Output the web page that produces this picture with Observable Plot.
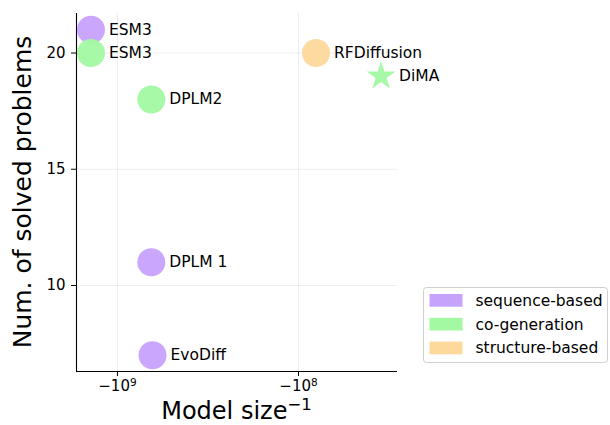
<!DOCTYPE html>
<html>
<head>
<meta charset="utf-8">
<script src="https://cdn.jsdelivr.net/npm/d3@7"></script>
<script src="https://cdn.jsdelivr.net/npm/@observablehq/plot@0.6"></script>
<style>
  html, body { margin: 0; padding: 0; background: #fff; }
  #chart { width: 610px; height: 425px; }
  svg { font-family: "DejaVu Sans", sans-serif; }
</style>
</head>
<body>
<div id="chart"></div>
<script>
// ---- data ----
const names = ["ESM3", "ESM3", "DPLM2", "DPLM 1", "EvoDiff", "RFDiffusion", "DiMA"];
const modelSizes = [1.4e9, 1.4e9, 6.5e8, 6.5e8, 6.4e8, 8.0e7, 3.5e7];
const solved = [21, 20, 18, 11, 7, 20, 19];
const groups = ["sequence-based", "co-generation", "co-generation", "sequence-based", "sequence-based", "structure-based", "co-generation"];
const shapes = ["circle", "circle", "circle", "circle", "circle", "circle", "star"];
const categories = ["sequence-based", "co-generation", "structure-based"];
const palette = ["#c7a2fc", "#a2f9a2", "#fdd99b"];
const xTicks = [-1e9, -1e8];
const yTicks = [10, 15, 20];
const xLabel = ["Model size", "−1"];
const yLabel = "Num. of solved problems";

const rows = names.map((n, i) => ({
  name: n, x: -modelSizes[i], y: solved[i], group: groups[i], shape: shapes[i]
}));
const circles = rows.filter(d => d.shape === "circle");
const stars = rows.filter(d => d.shape === "star");

const svg = Plot.plot({
  width: 610,
  height: 425,
  marginLeft: 76,
  marginRight: 213,
  marginTop: 13,
  marginBottom: 54,
  style: { fontFamily: "DejaVu Sans, sans-serif", fontSize: "15px", color: "#000", background: "#fff" },
  x: { type: "log", domain: [-1.683e9, -2.84e7] },
  y: { domain: [6.3, 21.7] },
  color: { domain: categories, range: palette },
  marks: [
    Plot.gridX(xTicks, { stroke: "#b0b0b0", strokeOpacity: 0.2, strokeWidth: 1 }),
    Plot.gridY(yTicks, { stroke: "#b0b0b0", strokeOpacity: 0.2, strokeWidth: 1 }),
    Plot.axisX(xTicks, {
      tickSize: 5, tickPadding: 4, label: null,
      tickFormat: d => "−10|" + Math.round(Math.log10(-d))
    }),
    Plot.axisY(yTicks, { tickSize: 5, tickPadding: 6, label: null }),
    Plot.ruleX([-1.683e9], { stroke: "#000", strokeWidth: 1.1 }),
    Plot.ruleY([6.3], { stroke: "#000", strokeWidth: 1.1 }),
    Plot.dot(circles, { x: "x", y: "y", fill: "group", r: 14, fillOpacity: 0.95 }),
    Plot.dot(stars, { x: "x", y: "y", fill: "group", r: 9, symbol: "star", fillOpacity: 0.95 }),
    Plot.text(rows, { x: "x", y: "y", text: "name", dx: 18, textAnchor: "start", fontSize: 15.5, fill: "#000" })
  ]
});

const S = d3.select(svg);

// superscript exponents in x tick labels
S.selectAll("g[aria-label='x-axis tick label'] text").each(function() {
  const t = d3.select(this);
  const [base, exp] = t.text().split("|");
  t.text(null);
  t.append("tspan").text(base);
  t.append("tspan").attr("dy", "-0.45em").attr("font-size", "10.5px").text(exp);
});

// axis labels
const xl = S.append("text").attr("x", 236.5).attr("y", 419)
  .attr("text-anchor", "middle").attr("font-size", 24).attr("fill", "#000");
xl.append("tspan").text(xLabel[0]);
xl.append("tspan").attr("dy", -9).attr("font-size", 16.5).text(xLabel[1]);

S.append("text").attr("transform", "translate(31,192) rotate(-90)")
  .attr("text-anchor", "middle").attr("font-size", 25).attr("fill", "#000").text(yLabel);

// legend (matplotlib style, outside right)
const lg = S.append("g").attr("transform", "translate(423.5,287.5)");
lg.append("rect").attr("width", 184).attr("height", 75).attr("rx", 3)
  .attr("fill", "#fff").attr("stroke", "#d0d0d0").attr("stroke-width", 1);
categories.forEach((c, i) => {
  const g = lg.append("g").attr("transform", `translate(6,${6.5 + i * 23.8})`);
  g.append("rect").attr("width", 33).attr("height", 12.7).attr("fill", palette[i]);
  g.append("text").attr("x", 46).attr("y", 6.4).attr("dy", "0.35em")
    .attr("text-anchor", "start").attr("font-size", 15.5).attr("fill", "#000").text(c);
});

document.getElementById("chart").appendChild(svg);
</script>
</body>
</html>
